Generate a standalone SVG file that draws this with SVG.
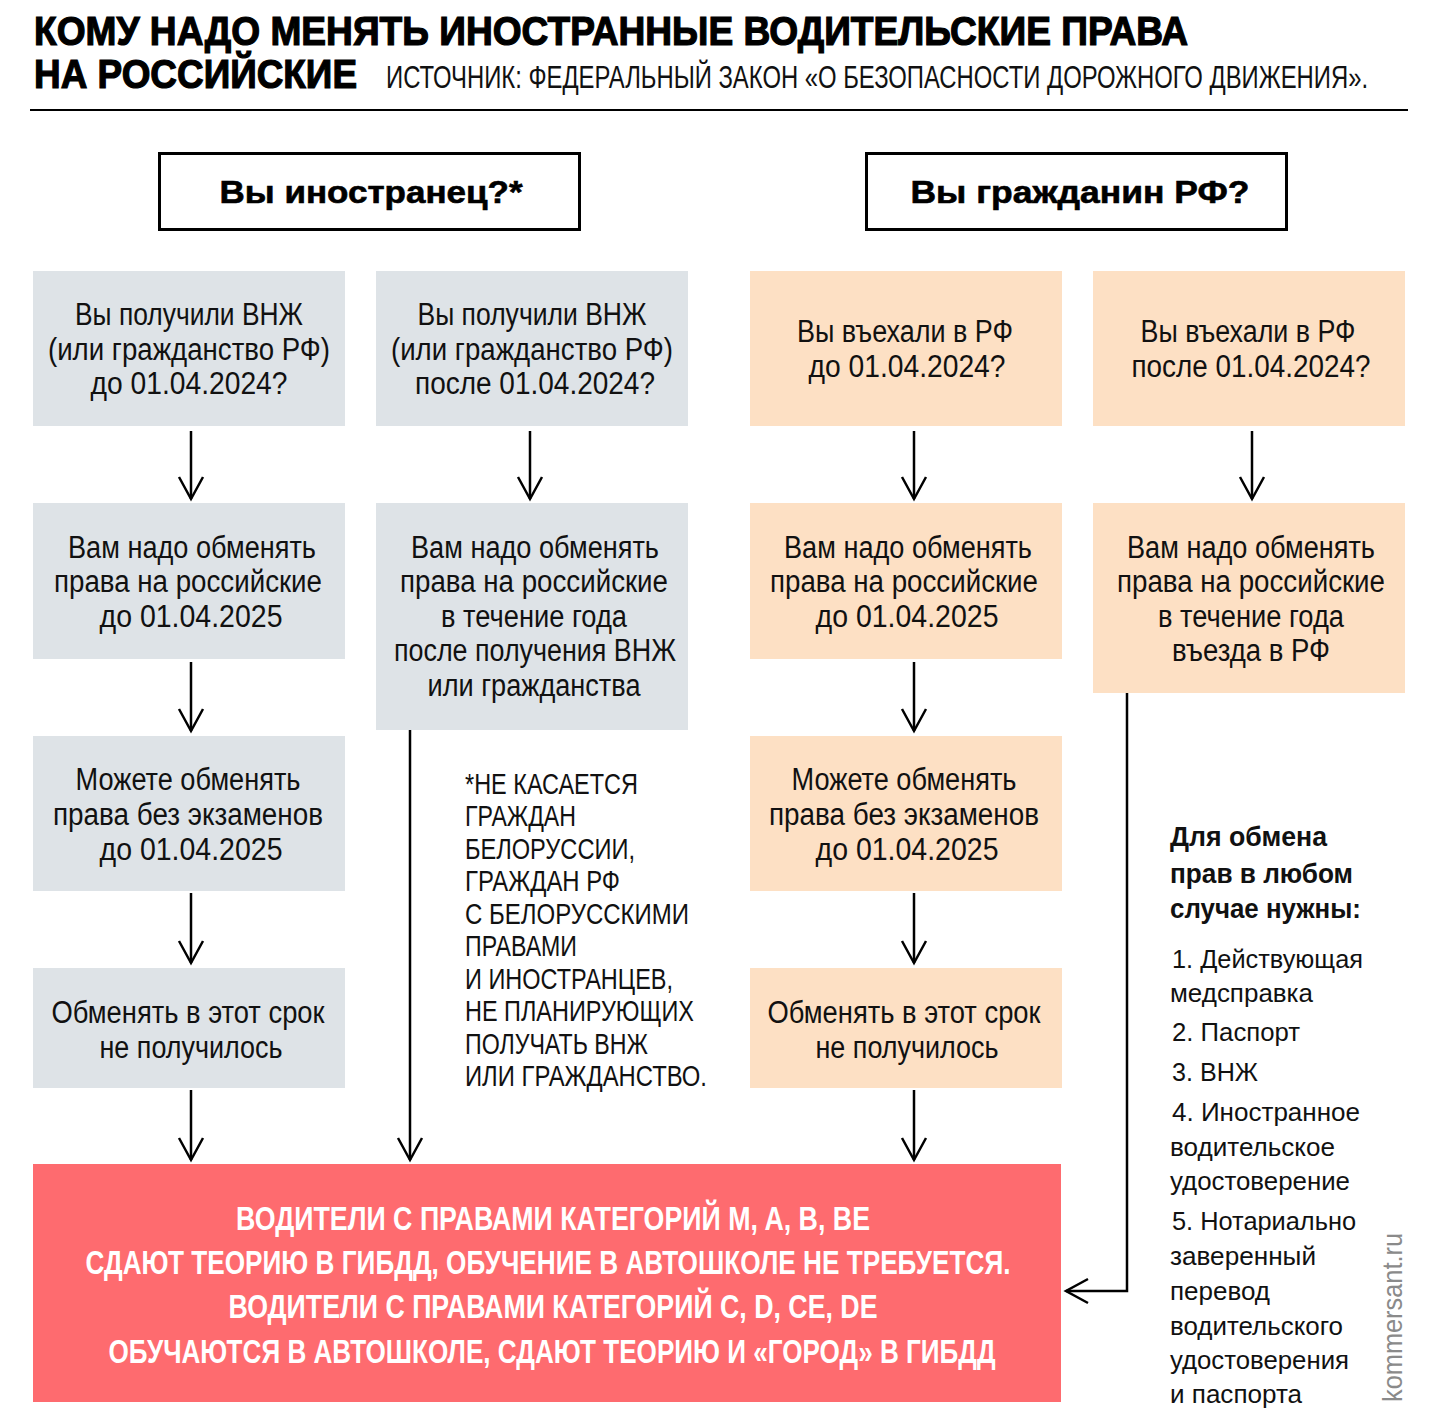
<svg xmlns="http://www.w3.org/2000/svg" width="1440" height="1426" viewBox="0 0 1440 1426">
<defs>
<style>
.cond{font-family:"Liberation Sans Narrow","Liberation Sans",Arial,sans-serif;fill:#111;}
.box{font-size:31px;text-anchor:middle;}
.grey{fill:#dee3e7;}
.orng{fill:#fde0c4;}
.title{font-family:"Liberation Sans",Arial,sans-serif;font-weight:bold;font-size:40px;fill:#000;stroke:#000;stroke-width:1.2px;}
.hdr{font-family:"Liberation Sans",Arial,sans-serif;font-weight:bold;font-size:32px;text-anchor:middle;fill:#000;stroke:#000;stroke-width:0.6px;}
.red{font-family:"Liberation Sans Narrow","Liberation Sans",Arial,sans-serif;font-weight:bold;font-size:34px;fill:#fff;text-anchor:middle;}
.note{font-size:29px;}
.list{font-family:"Liberation Sans",Arial,sans-serif;font-size:26px;fill:#111;}
.listb{font-family:"Liberation Sans",Arial,sans-serif;font-size:28px;font-weight:bold;fill:#111;}
.conn{stroke:#000;stroke-width:2.5;fill:none;}
</style>
<marker id="arr" markerUnits="userSpaceOnUse" markerWidth="30" markerHeight="30" refX="24" refY="12" orient="auto" overflow="visible">
<path d="M2,0 L24,12 L2,24" fill="none" stroke="#000" stroke-width="2.5"/>
</marker>
</defs>
<rect width="1440" height="1426" fill="#fff"/>

<g id="title">
<text class="title" x="34" y="45" textLength="1154" lengthAdjust="spacingAndGlyphs">КОМУ НАДО МЕНЯТЬ ИНОСТРАННЫЕ ВОДИТЕЛЬСКИЕ ПРАВА</text>
<text class="title" x="34" y="88" textLength="323" lengthAdjust="spacingAndGlyphs">НА РОССИЙСКИЕ</text>
<text class="cond" x="386" y="88" font-size="32" textLength="982" lengthAdjust="spacingAndGlyphs">ИСТОЧНИК: ФЕДЕРАЛЬНЫЙ ЗАКОН «О БЕЗОПАСНОСТИ ДОРОЖНОГО ДВИЖЕНИЯ».</text>
<rect x="30" y="109" width="1378" height="2" fill="#000"/>
</g>

<g id="hdr-foreigner">
<rect x="159.5" y="153.5" width="420" height="76" fill="#fff" stroke="#000" stroke-width="3"/>
<text class="hdr" x="371" y="203" textLength="303" lengthAdjust="spacingAndGlyphs">Вы иностранец?*</text>
</g>
<g id="hdr-citizen">
<rect x="866.5" y="153.5" width="420" height="76" fill="#fff" stroke="#000" stroke-width="3"/>
<text class="hdr" x="1080" y="203" textLength="339" lengthAdjust="spacingAndGlyphs">Вы гражданин РФ?</text>
</g>

<g id="c1r1">
<rect class="grey" x="33" y="271" width="312" height="155"/>
<text class="cond box" x="189" y="325" textLength="228" lengthAdjust="spacingAndGlyphs">Вы получили ВНЖ</text>
<text class="cond box" x="189" y="360" textLength="282" lengthAdjust="spacingAndGlyphs">(или гражданство РФ)</text>
<text class="cond box" x="189" y="394" textLength="197" lengthAdjust="spacingAndGlyphs">до 01.04.2024?</text>
</g>
<g id="c2r1">
<rect class="grey" x="376" y="271" width="312" height="155"/>
<text class="cond box" x="532" y="325" textLength="229" lengthAdjust="spacingAndGlyphs">Вы получили ВНЖ</text>
<text class="cond box" x="532" y="360" textLength="282" lengthAdjust="spacingAndGlyphs">(или гражданство РФ)</text>
<text class="cond box" x="535" y="394" textLength="240" lengthAdjust="spacingAndGlyphs">после 01.04.2024?</text>
</g>
<g id="c3r1">
<rect class="orng" x="750" y="271" width="312" height="155"/>
<text class="cond box" x="905" y="342" textLength="216" lengthAdjust="spacingAndGlyphs">Вы въехали в РФ</text>
<text class="cond box" x="907" y="377" textLength="197" lengthAdjust="spacingAndGlyphs">до 01.04.2024?</text>
</g>
<g id="c4r1">
<rect class="orng" x="1093" y="271" width="312" height="155"/>
<text class="cond box" x="1248" y="342" textLength="215" lengthAdjust="spacingAndGlyphs">Вы въехали в РФ</text>
<text class="cond box" x="1251" y="377" textLength="239" lengthAdjust="spacingAndGlyphs">после 01.04.2024?</text>
</g>

<g id="c1r2">
<rect class="grey" x="33" y="503" width="312" height="156"/>
<text class="cond box" x="192" y="558" textLength="248" lengthAdjust="spacingAndGlyphs">Вам надо обменять</text>
<text class="cond box" x="188" y="592" textLength="268" lengthAdjust="spacingAndGlyphs">права на российские</text>
<text class="cond box" x="191" y="627" textLength="183" lengthAdjust="spacingAndGlyphs">до 01.04.2025</text>
</g>
<g id="c2r2">
<rect class="grey" x="376" y="503" width="312" height="227"/>
<text class="cond box" x="535" y="558" textLength="248" lengthAdjust="spacingAndGlyphs">Вам надо обменять</text>
<text class="cond box" x="534" y="592" textLength="268" lengthAdjust="spacingAndGlyphs">права на российские</text>
<text class="cond box" x="534" y="627" textLength="186" lengthAdjust="spacingAndGlyphs">в течение года</text>
<text class="cond box" x="535" y="661" textLength="282" lengthAdjust="spacingAndGlyphs">после получения ВНЖ</text>
<text class="cond box" x="534" y="696" textLength="213" lengthAdjust="spacingAndGlyphs">или гражданства</text>
</g>
<g id="c3r2">
<rect class="orng" x="750" y="503" width="312" height="156"/>
<text class="cond box" x="908" y="558" textLength="248" lengthAdjust="spacingAndGlyphs">Вам надо обменять</text>
<text class="cond box" x="904" y="592" textLength="268" lengthAdjust="spacingAndGlyphs">права на российские</text>
<text class="cond box" x="907" y="627" textLength="183" lengthAdjust="spacingAndGlyphs">до 01.04.2025</text>
</g>
<g id="c4r2">
<rect class="orng" x="1093" y="503" width="312" height="190"/>
<text class="cond box" x="1251" y="558" textLength="248" lengthAdjust="spacingAndGlyphs">Вам надо обменять</text>
<text class="cond box" x="1251" y="592" textLength="268" lengthAdjust="spacingAndGlyphs">права на российские</text>
<text class="cond box" x="1251" y="627" textLength="186" lengthAdjust="spacingAndGlyphs">в течение года</text>
<text class="cond box" x="1251" y="661" textLength="158" lengthAdjust="spacingAndGlyphs">въезда в РФ</text>
</g>

<g id="c1r3">
<rect class="grey" x="33" y="736" width="312" height="155"/>
<text class="cond box" x="188" y="790" textLength="225" lengthAdjust="spacingAndGlyphs">Можете обменять</text>
<text class="cond box" x="188" y="825" textLength="270" lengthAdjust="spacingAndGlyphs">права без экзаменов</text>
<text class="cond box" x="191" y="860" textLength="183" lengthAdjust="spacingAndGlyphs">до 01.04.2025</text>
</g>
<g id="c3r3">
<rect class="orng" x="750" y="736" width="312" height="155"/>
<text class="cond box" x="904" y="790" textLength="225" lengthAdjust="spacingAndGlyphs">Можете обменять</text>
<text class="cond box" x="904" y="825" textLength="270" lengthAdjust="spacingAndGlyphs">права без экзаменов</text>
<text class="cond box" x="907" y="860" textLength="183" lengthAdjust="spacingAndGlyphs">до 01.04.2025</text>
</g>

<g id="c1r4">
<rect class="grey" x="33" y="968" width="312" height="120"/>
<text class="cond box" x="188" y="1023" textLength="273" lengthAdjust="spacingAndGlyphs">Обменять в этот срок</text>
<text class="cond box" x="191" y="1058" textLength="183" lengthAdjust="spacingAndGlyphs">не получилось</text>
</g>
<g id="c3r4">
<rect class="orng" x="750" y="968" width="312" height="120"/>
<text class="cond box" x="904" y="1023" textLength="273" lengthAdjust="spacingAndGlyphs">Обменять в этот срок</text>
<text class="cond box" x="907" y="1058" textLength="183" lengthAdjust="spacingAndGlyphs">не получилось</text>
</g>

<g id="result">
<rect x="33" y="1164" width="1028" height="238" fill="#fe6b6f"/>
<text class="red" x="553" y="1230" textLength="634" lengthAdjust="spacingAndGlyphs">ВОДИТЕЛИ С ПРАВАМИ КАТЕГОРИЙ M, A, B, BE</text>
<text class="red" x="548" y="1274" textLength="925" lengthAdjust="spacingAndGlyphs">СДАЮТ ТЕОРИЮ В ГИБДД, ОБУЧЕНИЕ В АВТОШКОЛЕ НЕ ТРЕБУЕТСЯ.</text>
<text class="red" x="553" y="1318" textLength="649" lengthAdjust="spacingAndGlyphs">ВОДИТЕЛИ С ПРАВАМИ КАТЕГОРИЙ C, D, CE, DE</text>
<text class="red" x="552" y="1363" textLength="887" lengthAdjust="spacingAndGlyphs">ОБУЧАЮТСЯ В АВТОШКОЛЕ, СДАЮТ ТЕОРИЮ И «ГОРОД» В ГИБДД</text>
</g>

<g id="footnote" class="cond note">
<text x="465" y="794" textLength="173" lengthAdjust="spacingAndGlyphs">*НЕ КАСАЕТСЯ</text>
<text x="465" y="826" textLength="111" lengthAdjust="spacingAndGlyphs">ГРАЖДАН</text>
<text x="465" y="859" textLength="170" lengthAdjust="spacingAndGlyphs">БЕЛОРУССИИ,</text>
<text x="465" y="891" textLength="155" lengthAdjust="spacingAndGlyphs">ГРАЖДАН РФ</text>
<text x="465" y="924" textLength="224" lengthAdjust="spacingAndGlyphs">С БЕЛОРУССКИМИ</text>
<text x="465" y="956" textLength="112" lengthAdjust="spacingAndGlyphs">ПРАВАМИ</text>
<text x="465" y="989" textLength="208" lengthAdjust="spacingAndGlyphs">И ИНОСТРАНЦЕВ,</text>
<text x="465" y="1021" textLength="229" lengthAdjust="spacingAndGlyphs">НЕ ПЛАНИРУЮЩИХ</text>
<text x="465" y="1054" textLength="183" lengthAdjust="spacingAndGlyphs">ПОЛУЧАТЬ ВНЖ</text>
<text x="465" y="1086" textLength="242" lengthAdjust="spacingAndGlyphs">ИЛИ ГРАЖДАНСТВО.</text>
</g>

<g id="requirements">
<text class="listb" x="1170" y="846" textLength="157" lengthAdjust="spacingAndGlyphs">Для обмена</text>
<text class="listb" x="1170" y="883" textLength="183" lengthAdjust="spacingAndGlyphs">прав в любом</text>
<text class="listb" x="1170" y="918" textLength="191" lengthAdjust="spacingAndGlyphs">случае нужны:</text>
<text class="list" x="1172" y="968" textLength="191" lengthAdjust="spacingAndGlyphs">1. Действующая</text>
<text class="list" x="1170" y="1002" textLength="143" lengthAdjust="spacingAndGlyphs">медсправка</text>
<text class="list" x="1172" y="1041" textLength="128" lengthAdjust="spacingAndGlyphs">2. Паспорт</text>
<text class="list" x="1172" y="1081" textLength="86" lengthAdjust="spacingAndGlyphs">3. ВНЖ</text>
<text class="list" x="1172" y="1121" textLength="188" lengthAdjust="spacingAndGlyphs">4. Иностранное</text>
<text class="list" x="1170" y="1156" textLength="165" lengthAdjust="spacingAndGlyphs">водительское</text>
<text class="list" x="1170" y="1190" textLength="180" lengthAdjust="spacingAndGlyphs">удостоверение</text>
<text class="list" x="1172" y="1230" textLength="184" lengthAdjust="spacingAndGlyphs">5. Нотариально</text>
<text class="list" x="1170" y="1265" textLength="146" lengthAdjust="spacingAndGlyphs">заверенный</text>
<text class="list" x="1170" y="1300" textLength="100" lengthAdjust="spacingAndGlyphs">перевод</text>
<text class="list" x="1170" y="1335" textLength="173" lengthAdjust="spacingAndGlyphs">водительского</text>
<text class="list" x="1170" y="1369" textLength="179" lengthAdjust="spacingAndGlyphs">удостоверения</text>
<text class="list" x="1170" y="1403" textLength="132" lengthAdjust="spacingAndGlyphs">и паспорта</text>
</g>

<g id="credit">
<text class="cond" transform="translate(1402,1402) rotate(-90)" x="0" y="0" font-size="28" style="fill:#8a8a8a" textLength="169" lengthAdjust="spacingAndGlyphs">kommersant.ru</text>
</g>

<g id="connectors" class="conn">
<line x1="191" y1="431" x2="191" y2="499" marker-end="url(#arr)"/>
<line x1="530" y1="431" x2="530" y2="499" marker-end="url(#arr)"/>
<line x1="914" y1="431" x2="914" y2="499" marker-end="url(#arr)"/>
<line x1="1252" y1="431" x2="1252" y2="499" marker-end="url(#arr)"/>
<line x1="191" y1="662" x2="191" y2="731" marker-end="url(#arr)"/>
<line x1="914" y1="662" x2="914" y2="731" marker-end="url(#arr)"/>
<line x1="191" y1="893" x2="191" y2="963" marker-end="url(#arr)"/>
<line x1="914" y1="893" x2="914" y2="963" marker-end="url(#arr)"/>
<line x1="191" y1="1090" x2="191" y2="1160" marker-end="url(#arr)"/>
<line x1="914" y1="1090" x2="914" y2="1160" marker-end="url(#arr)"/>
<line x1="410" y1="730" x2="410" y2="1160" marker-end="url(#arr)"/>
<polyline points="1127,693 1127,1291 1066,1291" marker-end="url(#arr)"/>
</g>
</svg>
